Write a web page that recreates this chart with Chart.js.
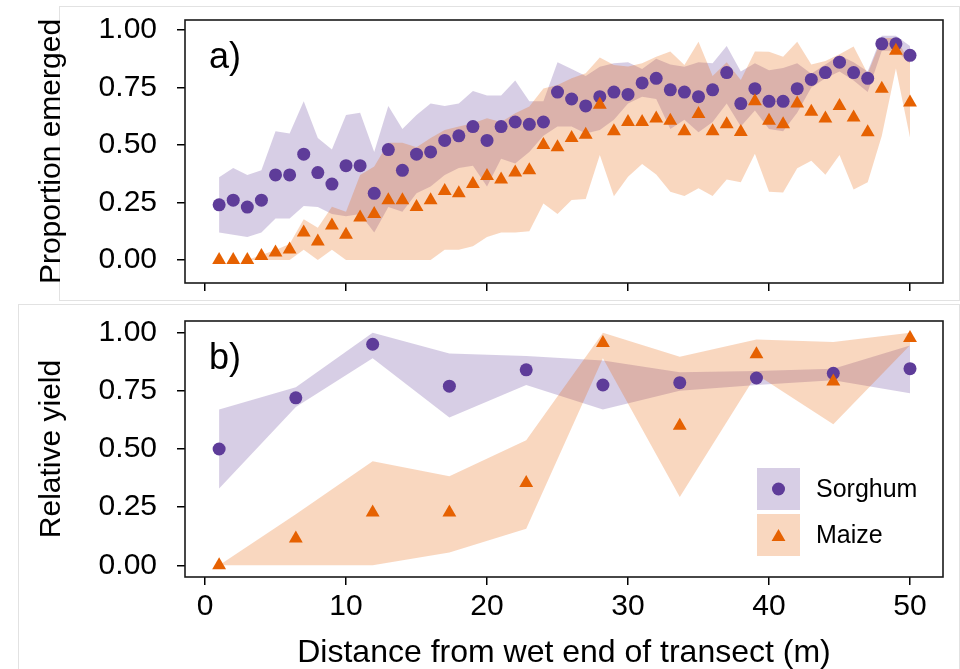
<!DOCTYPE html>
<html>
<head>
<meta charset="utf-8">
<script src="https://cdn.jsdelivr.net/npm/chart.js@4.4.1/dist/chart.umd.min.js"></script>
<style>
  html, body { margin: 0; padding: 0; background: #fff; overflow: hidden; }
  body { width: 960px; height: 669px; position: relative; }
  .box { position: absolute; border: 1px solid #e2e2e2; }
  #topBox { left: 59px; top: 6px; width: 899px; height: 293px; }
  #botBox { left: 18px; top: 304px; width: 940px; height: 380px; }
  canvas { position: absolute; left: 0; }
</style>
</head>
<body>
<div class="box" id="topBox"></div>
<div class="box" id="botBox"></div>
<canvas id="topChart" width="960" height="300" style="top:0"></canvas>
<canvas id="botChart" width="960" height="372" style="top:300px"></canvas>
<script>
const FONT = "'Liberation Sans', Arial, sans-serif";

//panel a) - emergence along the transect, one value per metre
const emergeDist = [1, 2, 3, 4, 5, 6, 7, 8, 9, 10, 11, 12, 13, 14, 15, 16, 17, 18, 19, 20,
  21, 22, 23, 24, 25, 26, 27, 28, 29, 30, 31, 32, 33, 34, 35, 36, 37, 38, 39, 40,
  41, 42, 43, 44, 45, 46, 47, 48, 49, 50];
const sorghumEmerged = [0.24, 0.26, 0.23, 0.26, 0.37, 0.37, 0.46, 0.38, 0.33, 0.41,
  0.41, 0.29, 0.48, 0.39, 0.46, 0.47, 0.52, 0.54, 0.58, 0.52,
  0.58, 0.60, 0.59, 0.60, 0.73, 0.70, 0.67, 0.71, 0.73, 0.72,
  0.77, 0.79, 0.74, 0.73, 0.71, 0.74, 0.815, 0.68, 0.745, 0.69,
  0.69, 0.745, 0.785, 0.815, 0.86, 0.815, 0.79, 0.94, 0.94, 0.89];
const sorghumEmergedHi = [0.36, 0.40, 0.37, 0.39, 0.56, 0.55, 0.69, 0.53, 0.48, 0.63,
  0.64, 0.47, 0.67, 0.57, 0.63, 0.68, 0.67, 0.68, 0.735, 0.715,
  0.715, 0.78, 0.69, 0.69, 0.86, 0.83, 0.80, 0.84, 0.855, 0.86,
  0.83, 0.875, 0.85, 0.84, 0.86, 0.855, 0.93, 0.82, 0.855, 0.825,
  0.835, 0.855, 0.81, 0.85, 0.89, 0.86, 0.82, 0.975, 0.975, 0.93];
const sorghumEmergedLo = [0.12, 0.11, 0.10, 0.12, 0.18, 0.18, 0.235, 0.23, 0.20, 0.19,
  0.20, 0.12, 0.23, 0.21, 0.29, 0.32, 0.37, 0.40, 0.41, 0.32,
  0.44, 0.42, 0.47, 0.54, 0.58, 0.58, 0.55, 0.565, 0.61, 0.68,
  0.71, 0.70, 0.57, 0.61, 0.555, 0.60, 0.68, 0.58, 0.65, 0.57,
  0.56, 0.64, 0.75, 0.79, 0.82, 0.78, 0.73, 0.91, 0.91, 0.855];
const maizeEmerged = [0, 0, 0, 0.017, 0.033, 0.046, 0.12, 0.08, 0.15, 0.11,
  0.185, 0.20, 0.26, 0.26, 0.23, 0.26, 0.30, 0.29, 0.33, 0.365,
  0.35, 0.38, 0.39, 0.50, 0.49, 0.53, 0.545, 0.675, 0.56, 0.60,
  0.60, 0.615, 0.605, 0.56, 0.635, 0.56, 0.59, 0.557, 0.69, 0.605,
  0.59, 0.68, 0.645, 0.615, 0.67, 0.62, 0.555, 0.745, 0.91, 0.685];
const maizeEmergedHi = [0, 0, 0, 0.022, 0.043, 0.07, 0.177, 0.14, 0.232, 0.21,
  0.37, 0.406, 0.51, 0.51, 0.49, 0.53, 0.565, 0.58, 0.595, 0.616,
  0.60, 0.638, 0.667, 0.746, 0.761, 0.79, 0.812, 0.88, 0.848, 0.841,
  0.855, 0.884, 0.906, 0.848, 0.949, 0.80, 0.86, 0.783, 0.906, 0.905,
  0.884, 0.949, 0.85, 0.865, 0.895, 0.928, 0.81, 0.965, 0.965, 0.86];
const maizeEmergedLo = [0, 0, 0, 0, 0, 0, 0.045, 0, 0.045, 0,
  0, 0, 0, 0, 0, 0, 0.045, 0.045, 0.06, 0.10,
  0.12, 0.12, 0.125, 0.246, 0.20, 0.261, 0.265, 0.457, 0.277, 0.362,
  0.417, 0.372, 0.297, 0.278, 0.312, 0.278, 0.35, 0.338, 0.462, 0.297,
  0.293, 0.399, 0.432, 0.371, 0.456, 0.307, 0.338, 0.54, 0.833, 0.533];

//panel b) - relative yield, ten harvest plots
const yieldDist = [1, 6.44, 11.89, 17.33, 22.78, 28.22, 33.67, 39.11, 44.56, 50];
const sorghumYield = [0.50, 0.72, 0.95, 0.77, 0.84, 0.775, 0.785, 0.805, 0.825, 0.845];
const sorghumYieldHi = [0.67, 0.765, 1.0, 0.91, 0.90, 0.88, 0.83, 0.835, 0.845, 0.945];
const sorghumYieldLo = [0.33, 0.68, 0.89, 0.635, 0.775, 0.67, 0.75, 0.775, 0.795, 0.74];
const maizeYield = [0.0, 0.115, 0.227, 0.227, 0.354, 0.956, 0.60, 0.907, 0.79, 0.977];
const maizeYieldHi = [0.0, 0.22, 0.447, 0.383, 0.538, 1.0, 0.896, 0.97, 0.96, 1.0];
const maizeYieldLo = [0.0, 0.0, 0.0, 0.055, 0.157, 0.89, 0.294, 0.82, 0.606, 0.946];

const xTicks = [0, 10, 20, 30, 40, 50];
const yTicks = [0, 0.25, 0.5, 0.75, 1.0];

const PURPLE = '#5e3c99';
const ORANGE = '#e66101';
const PURPLE_FILL = 'rgba(94, 60, 153, 0.25)';
const ORANGE_FILL = 'rgba(230, 97, 1, 0.25)';

const pts = (xs, ys) => xs.map((x, i) => ({ x: x, y: ys[i] }));

//points first so they sit on top, bands after (drawn underneath)
function buildDatasets(xs, s, sHi, sLo, m, mHi, mLo) {
  return [
    { label: 'Maize', data: pts(xs, m), pointStyle: 'triangle', pointRadius: 8,
      backgroundColor: ORANGE, borderColor: ORANGE, pointBorderWidth: 0 },
    { label: 'Sorghum', data: pts(xs, s), pointStyle: 'circle', pointRadius: 6.5,
      backgroundColor: PURPLE, borderColor: PURPLE, pointBorderWidth: 0 },
    { label: 'maize hi', data: pts(xs, mHi), showLine: true, pointRadius: 0, borderWidth: 0,
      borderColor: 'rgba(0,0,0,0)', backgroundColor: ORANGE_FILL, fill: '+1' },
    { label: 'maize lo', data: pts(xs, mLo), showLine: true, pointRadius: 0, borderWidth: 0,
      borderColor: 'rgba(0,0,0,0)', fill: false },
    { label: 'sorghum hi', data: pts(xs, sHi), showLine: true, pointRadius: 0, borderWidth: 0,
      borderColor: 'rgba(0,0,0,0)', backgroundColor: PURPLE_FILL, fill: '+1' },
    { label: 'sorghum lo', data: pts(xs, sLo), showLine: true, pointRadius: 0, borderWidth: 0,
      borderColor: 'rgba(0,0,0,0)', fill: false }
  ];
}

//black frame round the plot area
const frameBox = {
  id: 'frameBox',
  afterDraw(chart) {
    const { ctx, chartArea: a } = chart;
    ctx.save();
    ctx.strokeStyle = '#1a1a1a';
    ctx.lineWidth = 1.6;
    ctx.strokeRect(a.left, a.top, a.right - a.left, a.bottom - a.top);
    ctx.restore();
  }
};

//a) / b) tags
const panelTag = {
  id: 'panelTag',
  afterDraw(chart, args, opts) {
    if (!opts.text) return;
    const { ctx, chartArea: a } = chart;
    ctx.save();
    ctx.font = '36px ' + FONT;
    ctx.fillStyle = '#000';
    ctx.textBaseline = 'alphabetic';
    ctx.fillText(opts.text, a.left + 24, a.top + 48);
    ctx.restore();
  }
};

//legend with shaded patch + marker, like the matplotlib one
const legendBoxes = {
  id: 'legendBoxes',
  afterDraw(chart, args, opts) {
    const { ctx, chartArea: a } = chart;
    const left = a.right - 186, w = 43, h = 42;
    let top = a.bottom - 109;
    ctx.save();
    opts.items.forEach(item => {
      ctx.fillStyle = item.fill;
      ctx.fillRect(left, top, w, h);
      const cx = left + w / 2, cy = top + h / 2;
      ctx.fillStyle = item.color;
      ctx.beginPath();
      if (item.style === 'circle') {
        ctx.arc(cx, cy, 6.5, 0, Math.PI * 2);
      } else {
        const r = 8;
        ctx.moveTo(cx, cy - r + 2);
        ctx.lineTo(cx + r * 0.866, cy + r / 2 + 2);
        ctx.lineTo(cx - r * 0.866, cy + r / 2 + 2);
        ctx.closePath();
      }
      ctx.fill();
      ctx.fillStyle = '#000';
      ctx.font = '25px ' + FONT;
      ctx.textBaseline = 'middle';
      ctx.fillText(item.label, left + w + 16, cy + 1);
      top += h + 4;
    });
    ctx.restore();
  }
};

function makeOptions(cfg) {
  const tickFont = { family: FONT, size: 30 };
  return {
    responsive: false,
    animation: false,
    events: [],
    devicePixelRatio: 1,
    layout: { padding: { top: cfg.padTop, right: 17, left: 0, bottom: 0 } },
    plugins: {
      legend: { display: false },
      tooltip: { enabled: false },
      panelTag: { text: cfg.tag },
      legendBoxes: cfg.legend || false
    },
    scales: {
      x: {
        type: 'linear', min: -1.42, max: 52.34, bounds: 'data',
        afterBuildTicks: s => { s.ticks = xTicks.map(v => ({ value: v })); },
        afterFit: s => {
          s.height = cfg.xHeight;
          s.paddingLeft = 0; s.paddingRight = 0;
        },
        grid: { drawOnChartArea: false, tickLength: 8, color: '#000', lineWidth: 1.5 },
        border: { display: false },
        ticks: { display: cfg.xLabels, font: tickFont, color: '#000', padding: 4,
                 maxRotation: 0, autoSkip: false },
        title: { display: cfg.xLabels, text: 'Distance from wet end of transect (m)',
                 font: { family: FONT, size: 32 }, color: '#000', padding: 0 }
      },
      y: {
        type: 'linear', min: cfg.yMin, max: cfg.yMax, bounds: 'data',
        afterBuildTicks: s => { s.ticks = yTicks.map(v => ({ value: v })); },
        afterFit: s => {
          s.width = 185;
          s.paddingTop = 0; s.paddingBottom = 0;
        },
        grid: { drawOnChartArea: false, tickLength: 8, color: '#000', lineWidth: 1.5 },
        border: { display: false },
        ticks: { font: tickFont, color: '#000', padding: 20, callback: v => Number(v).toFixed(2) },
        title: { display: true, text: cfg.yTitle, font: tickFont, color: '#000',
                 padding: { top: 34, bottom: 0 } }
      }
    }
  };
}

new Chart(document.getElementById('topChart'), {
  type: 'scatter',
  data: { datasets: buildDatasets(emergeDist, sorghumEmerged, sorghumEmergedHi, sorghumEmergedLo,
                                  maizeEmerged, maizeEmergedHi, maizeEmergedLo) },
  options: makeOptions({ padTop: 20, xHeight: 17, xLabels: false, yMin: -0.1, yMax: 1.0435,
                         yTitle: 'Proportion emerged', tag: 'a)' }),
  plugins: [frameBox, panelTag, legendBoxes]
});

new Chart(document.getElementById('botChart'), {
  type: 'scatter',
  data: { datasets: buildDatasets(yieldDist, sorghumYield, sorghumYieldHi, sorghumYieldLo,
                                  maizeYield, maizeYieldHi, maizeYieldLo) },
  options: makeOptions({ padTop: 21, xHeight: 95, xLabels: true, yMin: -0.05, yMax: 1.05,
                         yTitle: 'Relative yield', tag: 'b)',
                         legend: { items: [
                           { label: 'Sorghum', color: PURPLE, fill: PURPLE_FILL, style: 'circle' },
                           { label: 'Maize', color: ORANGE, fill: ORANGE_FILL, style: 'triangle' }
                         ] } }),
  plugins: [frameBox, panelTag, legendBoxes]
});
</script>
</body>
</html>
